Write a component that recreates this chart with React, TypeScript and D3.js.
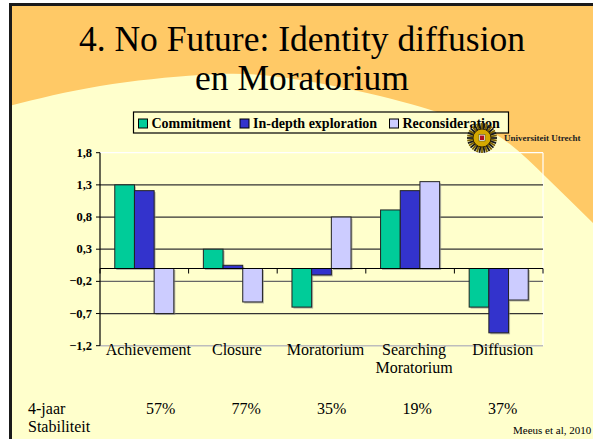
import * as d3 from "d3";

// chart data
const categories = ["Achievement", "Closure", "Moratorium", "Searching Moratorium", "Diffusion"];
const seriesNames = ["Commitment", "In-depth exploration", "Reconsideration"];
const commitment = [1.3, 0.3, -0.6, 0.91, -0.6];
const exploration = [1.21, 0.05, -0.1, 1.21, -1.0];
const reconsideration = [-0.7, -0.52, 0.8, 1.35, -0.49];
const yTicks = [1.8, 1.3, 0.8, 0.3, -0.2, -0.7, -1.2];
const stability = ["57%", "77%", "35%", "19%", "37%"];

const colors = ["#00CC99", "#3333CC", "#CCCCFF"];
const serif = "Liberation Serif, DejaVu Serif, serif";

const W = 593;
const H = 439;

// slide background curve (decoration)
const curvePts: [number, number][] = [
  [9, 106], [100, 86], [200, 75], [280, 77], [380, 96],
  [450, 116], [500, 137], [547, 178], [593, 223],
];

export default function App() {
  const values = [commitment, exploration, reconsideration];

  const x = d3.scaleBand<string>().domain(categories).range([100, 543]).padding(0);
  const xs = d3
    .scaleBand<string>()
    .domain(seriesNames)
    .range([0, x.bandwidth()])
    .paddingInner(0)
    .paddingOuter(0.75);
  const y = d3.scaleLinear().domain([-1.2, 1.8]).range([345.7, 152.7]);
  const [x0, x1] = x.range();
  const y0 = y(0);

  const pct = d3.scalePoint<number>().domain(d3.range(stability.length)).range([146, 488]);

  const curve = d3.line().curve(d3.curveNatural)(curvePts) as string;
  const lightPath = `${curve} L593,${H} L9,${H} Z`;

  // logo rays
  const logoX = 482;
  const logoY = 138;
  const rays = d3.range(36).map((i) => (i / 36) * Math.PI * 2);

  const txt = { fontFamily: serif };

  return (
    <svg
      width={W}
      height={H}
      style={{ position: "absolute", left: 0, top: 0, background: "#fff", fontFamily: serif }}
    >
      {/* slide background */}
      <rect x={9} y={3} width={W - 9} height={H - 3} fill="#FFC966" />
      <path d={lightPath} fill="#FFFFCC" />
      <line x1={10.5} y1={3} x2={10.5} y2={H} stroke="#1a1a1a" strokeWidth={3} />
      <line x1={9} y1={4.5} x2={W} y2={4.5} stroke="#1a1a1a" strokeWidth={3} />

      {/* title */}
      <text x={302} y={51} textAnchor="middle" style={txt} fontSize={35.5} fill="#000">
        4. No Future: Identity diffusion
      </text>
      <text x={302} y={90} textAnchor="middle" style={txt} fontSize={35.5} fill="#000">
        en Moratorium
      </text>

      {/* plot frame */}
      <line x1={x0} x2={x1} y1={y(1.8)} y2={y(1.8)} stroke="#ffffff" strokeWidth={1.2} />
      <line x1={x1} x2={x1} y1={y(1.8)} y2={y(-1.2)} stroke="#ffffff" strokeWidth={1.2} />
      <line x1={x0} x2={x1} y1={y(-1.2)} y2={y(-1.2)} stroke="#bdbdbd" strokeWidth={1.5} />

      {/* gridlines */}
      {yTicks
        .filter((t) => t !== 1.8 && t !== -1.2)
        .map((t) => (
          <line
            key={`g${t}`}
            x1={x0}
            x2={x1}
            y1={y(t)}
            y2={y(t)}
            stroke={t === -0.2 ? "#666" : "#333"}
            strokeWidth={1.2}
          />
        ))}

      {/* bars */}
      {categories.map((c, ci) =>
        seriesNames.map((s, si) => {
          const v = values[si][ci];
          const bx = (x(c) as number) + (xs(s) as number);
          const by = Math.min(y(v), y0);
          const bh = Math.abs(y(v) - y0);
          return (
            <g key={`${c}-${s}`}>
              <rect x={bx + 1.5} y={by + 1.5} width={xs.bandwidth()} height={bh} fill="#888" opacity={0.6} />
              <rect
                x={bx}
                y={by}
                width={xs.bandwidth()}
                height={bh}
                fill={colors[si]}
                stroke="#222"
                strokeWidth={1}
              />
            </g>
          );
        })
      )}

      {/* zero axis and ticks */}
      <line x1={x0} x2={x1} y1={y0} y2={y0} stroke="#000" strokeWidth={1.2} />
      {d3.range(categories.length + 1).map((i) => {
        const tx = x0 + i * x.step();
        return <line key={`xt${i}`} x1={tx} x2={tx} y1={y0} y2={y0 + 5} stroke="#000" strokeWidth={1} />;
      })}

      {/* y axis */}
      <line x1={x0} x2={x0} y1={y(1.8)} y2={y(-1.2)} stroke="#000" strokeWidth={1.2} />
      {yTicks.map((t) => (
        <g key={`yt${t}`}>
          <line x1={x0 - 4} x2={x0} y1={y(t)} y2={y(t)} stroke="#000" strokeWidth={1} />
          <text
            x={x0 - 8}
            y={y(t) + 4}
            textAnchor="end"
            style={txt}
            fontWeight="bold"
            fontSize={12.5}
            fill="#000"
          >
            {d3.format(".1f")(t).replace(".", ",")}
          </text>
        </g>
      ))}

      {/* category labels */}
      {categories.map((c) => {
        const cx = (x(c) as number) + x.bandwidth() / 2 + 4;
        const lines = c === "Searching Moratorium" ? ["Searching", "Moratorium"] : [c];
        return (
          <text key={`xl${c}`} x={cx} y={354.5} textAnchor="middle" style={txt} fontSize={16} fill="#000">
            {lines.map((l, li) => (
              <tspan key={l} x={cx} dy={li === 0 ? 0 : 18}>
                {l}
              </tspan>
            ))}
          </text>
        );
      })}

      {/* legend */}
      <rect x={133.5} y={112} width={375} height={21} fill="#FFFFCC" stroke="#000" strokeWidth={1.2} />
      {seriesNames.map((s, i) => {
        const lx = [138.5, 240, 389.5][i];
        return (
          <g key={`lg${s}`}>
            <rect x={lx} y={119} width={9} height={9} fill={colors[i]} stroke="#000" strokeWidth={1} />
            <text x={lx + 13} y={128} style={txt} fontWeight="bold" fontSize={14} fill="#000">
              {s}
            </text>
          </g>
        );
      })}

      {/* university logo */}
      <g>
        {rays.map((a, i) => (
          <line
            key={`r${i}`}
            x1={logoX + Math.cos(a) * 7}
            y1={logoY + Math.sin(a) * 7}
            x2={logoX + Math.cos(a) * 15}
            y2={logoY + Math.sin(a) * 15}
            stroke={i % 2 === 0 ? "#1a1a1a" : "#7a6000"}
            strokeWidth={1.8}
          />
        ))}
        <circle cx={logoX} cy={logoY} r={9} fill="#D4A800" stroke="#3a2a00" strokeWidth={1} />
        <rect x={logoX - 3} y={logoY - 3.5} width={6} height={6.5} fill="#fff" stroke="#552" strokeWidth={0.6} />
        <rect x={logoX - 2} y={logoY - 2.5} width={4} height={4.5} fill="#B01020" />
      </g>
      <text x={504} y={141} style={txt} fontWeight="bold" fontSize={9} fill="#222">
        Universiteit Utrecht
      </text>

      {/* stability row */}
      <text x={28} y={414} style={txt} fontSize={16} fill="#000">
        4-jaar
      </text>
      <text x={28} y={432} style={txt} fontSize={16} fill="#000">
        Stabiliteit
      </text>
      {stability.map((p, i) => (
        <text key={`p${i}`} x={pct(i) as number} y={414} style={txt} fontSize={16} fill="#000">
          {p}
        </text>
      ))}
      <text x={513} y={434} style={txt} fontSize={11} fill="#000">
        Meeus et al, 2010
      </text>
    </svg>
  );
}
